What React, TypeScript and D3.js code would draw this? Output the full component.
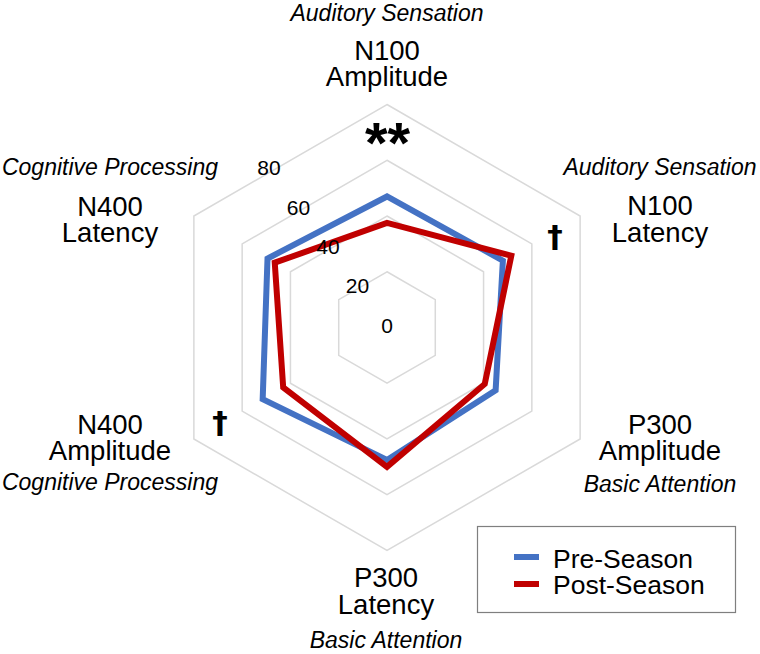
import React from "react";
import * as d3 from "d3";

const axes = ["N100 Amplitude", "N100 Latency", "P300 Amplitude", "P300 Latency", "N400 Amplitude", "N400 Latency"];
const axisMain = [["N100", "Amplitude"], ["N100", "Latency"], ["P300", "Amplitude"], ["P300", "Latency"], ["N400", "Amplitude"], ["N400", "Latency"]];
const axisDomain = ["Auditory Sensation", "Auditory Sensation", "Basic Attention", "Basic Attention", "Cognitive Processing", "Cognitive Processing"];
const axisMarks = ["**", "†", "", "", "†", ""];
const preSeason = [47, 48, 45, 47.5, 51.5, 49.5];
const postSeason = [37.5, 51.5, 40.5, 50, 43, 46.5];
const ticks = [0, 20, 40, 60, 80];
const seriesNames = ["Pre-Season", "Post-Season"];
const seriesColors = ["#4472C4", "#C00000"];

const W = 760, H = 654;
const cx = 387, cy = 327.5;
const FONT = "'Liberation Sans', Arial, sans-serif";

export default function App() {
  const r = d3.scaleLinear().domain([0, 80]).range([0, 223]);
  const angle = d3.scalePoint<string>().domain(axes).range([0, (2 * Math.PI * 5) / 6]);
  const line = d3
    .lineRadial<number>()
    .angle((_, i) => angle(axes[i]) as number)
    .radius((d) => r(d))
    .curve(d3.curveLinearClosed);

  const ring = (v: number) => line(axes.map(() => v)) as string;

  const labelBlocks = [
    { x: cx, lines: [{ t: axisDomain[0], it: true, y: 21 }, { t: axisMain[0][0], y: 60 }, { t: axisMain[0][1], y: 86 }] },
    { x: 660, lines: [{ t: axisDomain[1], it: true, y: 175 }, { t: axisMain[1][0], y: 215 }, { t: axisMain[1][1], y: 241.5 }] },
    { x: 660, lines: [{ t: axisMain[2][0], y: 433.5 }, { t: axisMain[2][1], y: 460 }, { t: axisDomain[2], it: true, y: 491.5 }] },
    { x: 386, lines: [{ t: axisMain[3][0], y: 587 }, { t: axisMain[3][1], y: 614 }, { t: axisDomain[3], it: true, y: 648 }] },
    { x: 110, lines: [{ t: axisMain[4][0], y: 433.5 }, { t: axisMain[4][1], y: 460 }, { t: axisDomain[4], it: true, y: 490 }] },
    { x: 110, lines: [{ t: axisDomain[5], it: true, y: 175 }, { t: axisMain[5][0], y: 215.5 }, { t: axisMain[5][1], y: 241.5 }] },
  ];
  const markPos = [
    { x: 387.5, y: 163, size: 58, fam: FONT },
    { x: 555, y: 247, size: 31, fam: "'DejaVu Sans', sans-serif" },
    null,
    null,
    { x: 220, y: 433, size: 31, fam: "'DejaVu Sans', sans-serif" },
    null,
  ];

  return (
    <svg width={W} height={H} style={{ position: "absolute", left: 0, top: 0, background: "#fff" }} fontFamily={FONT}>
      <g transform={`translate(${cx},${cy})`}>
        {ticks.filter((t) => t > 0).map((t) => (
          <path key={t} d={ring(t)} fill="none" stroke="#d9d9d9" strokeWidth={1.5} />
        ))}
        {[preSeason, postSeason].map((s, i) => (
          <path key={i} d={line(s) as string} fill="none" stroke={seriesColors[i]} strokeWidth={6} strokeLinejoin="miter" />
        ))}
      </g>
      {ticks.map((t) => (
        <text key={t} x={cx - t * 1.475} y={cy + 5 - t * 1.965} textAnchor="middle" fontSize={21} fill="#000">
          {t}
        </text>
      ))}
      {labelBlocks.map((b, i) => (
        <g key={i}>
          {b.lines.map((l, j) => (
            <text key={j} x={b.x} y={l.y} textAnchor="middle" fontSize={l.it ? 23 : 27.5} fontStyle={l.it ? "italic" : "normal"} fill="#000">
              {l.t}
            </text>
          ))}
        </g>
      ))}
      {markPos.map((m, i) =>
        m ? (
          <text key={i} x={m.x} y={m.y} textAnchor="middle" fontSize={m.size} fontWeight="bold" fontFamily={m.fam} fill="#000">
            {axisMarks[i]}
          </text>
        ) : null
      )}
      <g>
        <rect x={477.5} y={526.5} width={258} height={86} fill="#fff" stroke="#7f7f7f" strokeWidth={1.2} />
        {seriesNames.map((n, i) => (
          <g key={n}>
            <line x1={514} x2={539} y1={557 + i * 27} y2={557 + i * 27} stroke={seriesColors[i]} strokeWidth={6} />
            <text x={553} y={567.5 + i * 26.5} fontSize={26.5} fill="#000">
              {n}
            </text>
          </g>
        ))}
      </g>
    </svg>
  );
}
